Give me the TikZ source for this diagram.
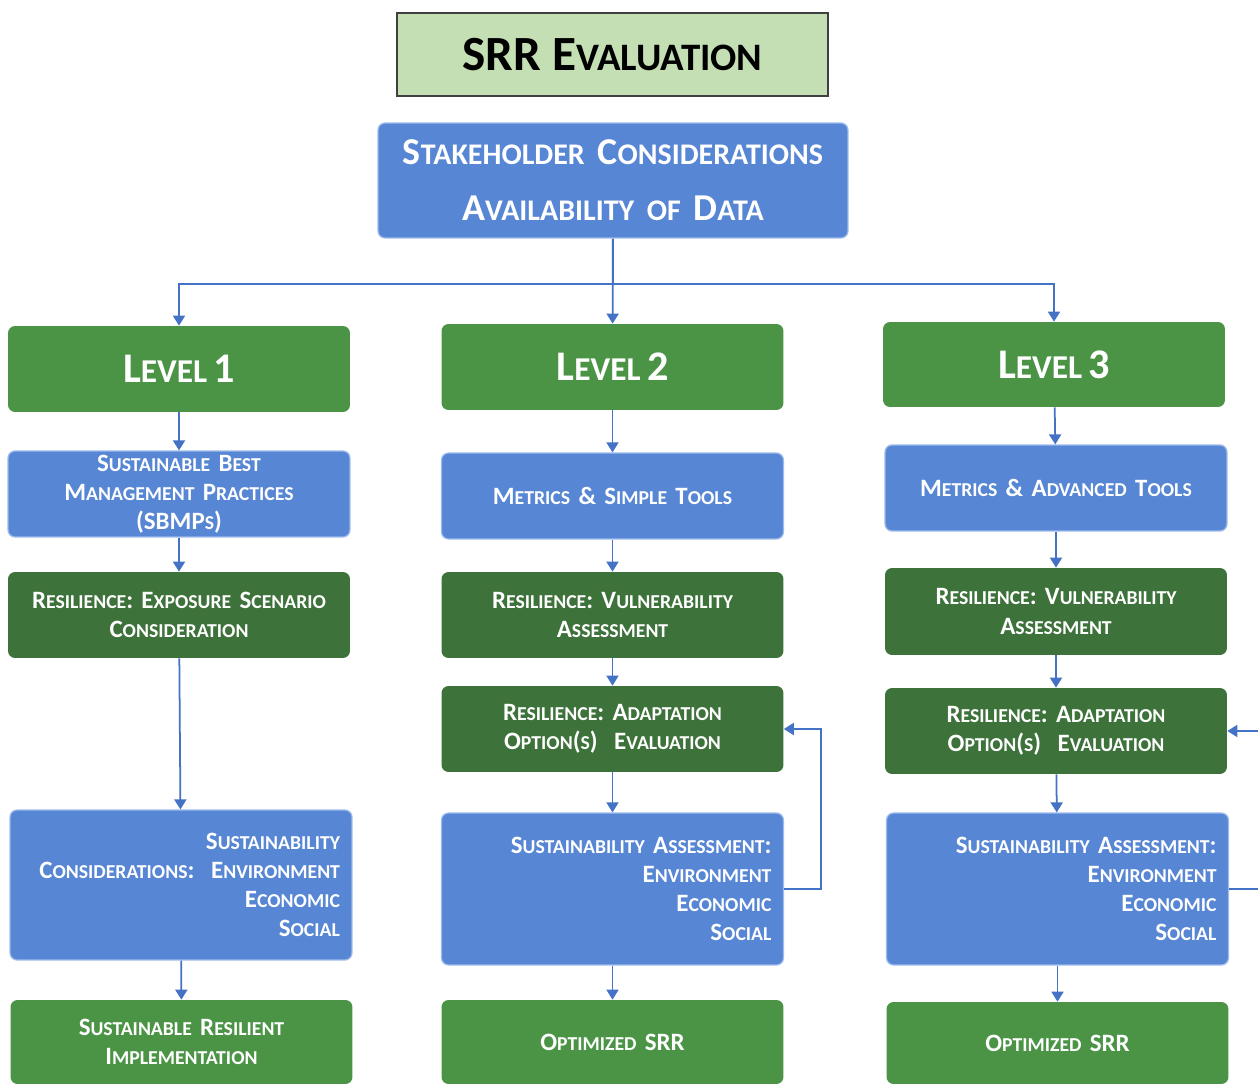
\documentclass[tikz,border=0pt]{standalone}
\usepackage{fontspec}
\setmainfont{Carlito}
\usetikzlibrary{arrows.meta}

\definecolor{boxblue}{HTML}{5686D4}
\definecolor{edgeblue}{HTML}{9DBBEC}
\definecolor{midgreen}{HTML}{4B9446}
\definecolor{darkgreen}{HTML}{3D723A}
\definecolor{titlegreen}{HTML}{C5DFB5}
\definecolor{linkblue}{HTML}{4472C4}

% faux small caps: lower-case letters as reduced capitals
\makeatletter
\newcommand\lc[1]{{\fontsize{\fpeval{0.79*\f@size}}{\f@baselineskip}\selectfont\MakeUppercase{#1}}}
\makeatother

\begin{document}
\begin{tikzpicture}[x=0.02cm, y=-0.02cm,
  box/.style={rounded corners=0.14cm, inner xsep=0.24cm, inner ysep=0pt,
    text width=6.36cm, align=center, text=white,
    font=\fontsize{14.2}{16.6}\selectfont\bfseries, minimum height=1.72cm},
  bluebox/.style={box, fill=boxblue, draw=edgeblue, line width=0.7pt},
  greenbox/.style={box, fill=midgreen},
  dgreenbox/.style={box, fill=darkgreen},
  levelbox/.style={greenbox, font=\fontsize{24}{28}\selectfont\bfseries},
  tallbox/.style={bluebox, align=right, minimum height=3.04cm},
  arr/.style={draw=linkblue, line width=1pt, -{Triangle[width=0.24cm,length=0.2cm]}},
  link/.style={draw=linkblue, line width=1pt}
]
\clip (0,0) rectangle (1258,1084);
\fill[white] (0,0) rectangle (1258,1084);

% heading and common inputs
\node[fill=titlegreen, draw=black!75, line width=0.8pt, minimum width=8.62cm,
  minimum height=1.66cm, font=\fontsize{28}{32}\selectfont\bfseries]
  (title) at (612.5,54.5) {SRR E\lc{valuation}};
\node[bluebox, text width=8.92cm, minimum height=2.3cm,
  font=\fontsize{21.6}{32}\selectfont\bfseries]
  (stake) at (613,180.5) {S\lc{takeholder} C\lc{onsiderations}\\ A\lc{vailability} \lc{of} D\lc{ata}};

% level 1
\node[levelbox] (lvl1) at (179,369) {L\lc{evel}\hspace{0.15em}1};
\node[bluebox] (sbmp) at (179,494) {S\lc{ustainable} B\lc{est}\\ M\lc{anagement} P\lc{ractices}\\ (SBMP\lc{s})};
\node[dgreenbox] (exp1) at (179,615) {R\lc{esilience}: E\lc{xposure} S\lc{cenario}\\ C\lc{onsideration}};
\node[tallbox, minimum height=3.0cm] (sc1) at (181,885) {S\lc{ustainability}\\ C\lc{onsiderations}: \ E\lc{nvironment}\\ E\lc{conomic}\\ S\lc{ocial}};
\node[greenbox, minimum height=1.68cm] (sri) at (181.5,1042) {S\lc{ustainable} R\lc{esilient}\\ I\lc{mplementation}};

% level 2
\node[levelbox] (lvl2) at (612.5,367) {L\lc{evel}\hspace{0.15em}2};
\node[bluebox] (mst) at (612.5,496) {M\lc{etrics} \& S\lc{imple} T\lc{ools}};
\node[dgreenbox] (vul2) at (612.5,615) {R\lc{esilience}: V\lc{ulnerability}\\ A\lc{ssessment}};
\node[dgreenbox] (ad2) at (612.5,729) {R\lc{esilience}: A\lc{daptation}\\ O\lc{ption}(\lc{s}) \ E\lc{valuation}};
\node[tallbox] (sa2) at (612.5,889) {S\lc{ustainability} A\lc{ssessment}:\\ E\lc{nvironment}\\ E\lc{conomic}\\ S\lc{ocial}};
\node[greenbox, minimum height=1.68cm] (op2) at (612.5,1042) {O\lc{ptimized} SRR};

% level 3
\node[levelbox, minimum height=1.7cm] (lvl3) at (1054,364.5) {L\lc{evel}\hspace{0.15em}3};
\node[bluebox] (mat) at (1056,488) {M\lc{etrics} \& A\lc{dvanced} T\lc{ools}};
\node[dgreenbox, minimum height=1.74cm] (vul3) at (1056,611.5) {R\lc{esilience}: V\lc{ulnerability}\\ A\lc{ssessment}};
\node[dgreenbox] (ad3) at (1056,731) {R\lc{esilience}: A\lc{daptation}\\ O\lc{ption}(\lc{s}) \ E\lc{valuation}};
\node[tallbox] (sa3) at (1057.5,889) {S\lc{ustainability} A\lc{ssessment}:\\ E\lc{nvironment}\\ E\lc{conomic}\\ S\lc{ocial}};
\node[greenbox, minimum height=1.64cm] (op3) at (1057.5,1043) {O\lc{ptimized} SRR};

% branching from the common inputs
\coordinate (split) at (613,284);
\draw[link] (stake) -- (split);
\draw[arr] (split) -| (lvl1);
\draw[arr] (split) -| (lvl3);
\draw[arr] (stake) -- (lvl2);

% flow inside each level
\draw[arr] (lvl1) -- (sbmp);
\draw[arr] (sbmp) -- (exp1);
\draw[arr] (exp1) -- (sc1);
\draw[arr] (sc1) -- (sri);

\draw[arr] (lvl2) -- (mst);
\draw[arr] (mst) -- (vul2);
\draw[arr] (vul2) -- (ad2);
\draw[arr] (ad2) -- (sa2);
\draw[arr] (sa2) -- (op2);

\draw[arr] (lvl3) -- (mat);
\draw[arr] (mat) -- (vul3);
\draw[arr] (vul3) -- (ad3);
\draw[arr] (ad3) -- (sa3);
\draw[arr] (sa3) -- (op3);

% feedback loops back to adaptation
\draw[arr] (sa2.east) -- ++(37,0) |- (ad2.east);
\coordinate (fb3) at (1300,731);
\draw[link] (sa3.east) -- ++(80,0);
\draw[arr] (fb3) -- (ad3.east);
\end{tikzpicture}
\end{document}
